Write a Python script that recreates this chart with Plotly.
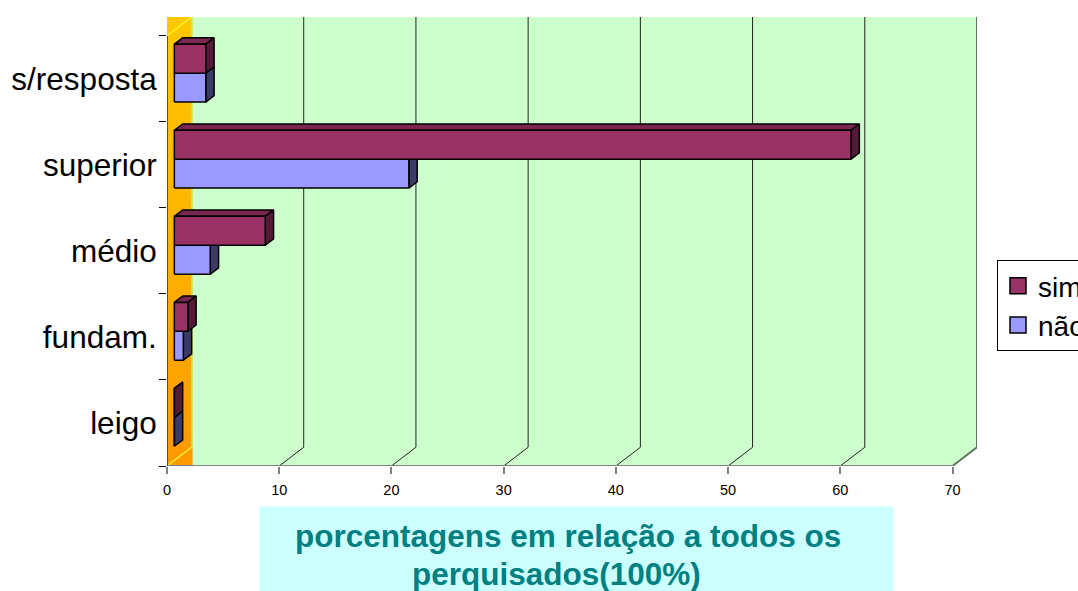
import plotly.graph_objects as go

# Survey shares (% of all respondents) by education level
categories = ["leigo", "fundam.", "médio", "superior", "s/resposta"]
sim = [0.0, 1.2, 8.1, 60.3, 2.8]
nao = [0.0, 0.8, 3.2, 20.9, 2.8]
x_ticks = [0, 10, 20, 30, 40, 50, 60, 70]
series_names = ["sim", "não"]
caption_lines = ["porcentagens em relação a todos os", "perquisados(100%)"]

# Oblique projection of the depth axis, expressed in data units
DEPTH_X = 2.183
DEPTH_Y = 0.2174
X_MAX = 70
N = len(categories)
Y_TOP = N + DEPTH_Y

BAR_H = 0.336          # thickness of one bar, in category units
F0, F1 = 0.30, 0.64    # front / back depth of the bars (fraction of wall depth)

FONT = "Liberation Sans, Arial, sans-serif"

SIM_FRONT, SIM_TOP, SIM_SIDE = "#993366", "#7a2750", "#561a39"
NAO_FRONT, NAO_TOP, NAO_SIDE = "#9999ff", "#6a6ab0", "#3b3b68"

# plot-area geometry in pixels (used for paper-space placement of legend/caption)
PLOT_L, PLOT_W, PLOT_B, PLOT_H = 167, 810, 466, 449


def px_x(px):
    return (px - PLOT_L) / PLOT_W


def px_y(py):
    return (PLOT_B - py) / PLOT_H


def proj(v, y, f):
    return v + f * DEPTH_X, y + f * DEPTH_Y


def polygon(pts, fill, line_color="black", line_width=1.5, **kw):
    xs, ys = zip(*pts)
    xs = list(xs) + [xs[0]]
    ys = list(ys) + [ys[0]]
    return go.Scatter(
        x=xs, y=ys, mode="lines", fill="toself", fillcolor=fill,
        line=dict(color=line_color, width=line_width),
        hoverinfo="skip", showlegend=False, **kw,
    )


def polyline(pts, color, width):
    xs, ys = zip(*pts)
    return go.Scatter(
        x=list(xs), y=list(ys), mode="lines",
        line=dict(color=color, width=width),
        hoverinfo="skip", showlegend=False,
    )


def bar_faces(v, y0, y1, front, top, side):
    f = [proj(0, y0, F0), proj(v, y0, F0), proj(v, y1, F0), proj(0, y1, F0)]
    t = [proj(0, y1, F0), proj(v, y1, F0), proj(v, y1, F1), proj(0, y1, F1)]
    s = [proj(v, y0, F0), proj(v, y0, F1), proj(v, y1, F1), proj(v, y1, F0)]
    return polygon(t, top), polygon(s, side), polygon(f, front)


fig = go.Figure()

# back wall + floor
fig.add_trace(polygon(
    [(0, 0), (X_MAX, 0), (X_MAX + DEPTH_X, DEPTH_Y), (X_MAX + DEPTH_X, Y_TOP), (0, Y_TOP)],
    "#ccffcc", line_width=0,
))

# gridlines running over floor and back wall
for v in x_ticks[1:-1]:
    fig.add_trace(polyline(
        [(v, 0), (v + DEPTH_X, DEPTH_Y), (v + DEPTH_X, Y_TOP)], "#222222", 1))
fig.add_trace(polyline(
    [(X_MAX, 0), (X_MAX + DEPTH_X, DEPTH_Y), (X_MAX + DEPTH_X, Y_TOP)], "#607460", 2))

# side wall with gradient
wall = go.Scatter(
    x=[0, DEPTH_X + 0.1, DEPTH_X + 0.1, 0, 0],
    y=[0, 0, Y_TOP, Y_TOP, 0],
    mode="lines", fill="toself", line=dict(width=0),
    fillgradient=dict(type="vertical",
                      colorscale=[[0, "#ff9900"], [0.5, "#ffb300"], [1, "#ffc800"]]),
    hoverinfo="skip", showlegend=False,
)
fig.add_trace(wall)
fig.add_trace(polyline([(0, N), (DEPTH_X, Y_TOP)], "#ffff33", 1.2))
fig.add_trace(polyline([(0, 0), (DEPTH_X, DEPTH_Y)], "#ffff33", 1.2))
fig.add_trace(polyline([(DEPTH_X + 0.05, DEPTH_Y), (DEPTH_X + 0.05, Y_TOP)], "#ccee66", 1.5))

# bars
for i in range(N):
    c = i + 0.5
    for tr in bar_faces(nao[i], c - BAR_H, c, NAO_FRONT, NAO_TOP, NAO_SIDE):
        fig.add_trace(tr)
    for tr in bar_faces(sim[i], c, c + BAR_H, SIM_FRONT, SIM_TOP, SIM_SIDE):
        fig.add_trace(tr)

# axis lines
fig.add_trace(polyline([(0, 0), (X_MAX, 0)], "#808080", 2))
fig.add_trace(polyline([(0, 0), (0, N)], "#333333", 1.5))

# legend entries
for name, color in zip(series_names, [SIM_FRONT, NAO_FRONT]):
    fig.add_trace(go.Scatter(
        x=[None], y=[None], mode="markers", name=name,
        marker=dict(symbol="square", size=16, color=color,
                    line=dict(color="black", width=1.5)),
    ))

caption_font = dict(family=FONT, size=31.5, color="#008080", weight="bold")

fig.update_layout(
    width=1078, height=591,
    margin=dict(l=PLOT_L, r=1078 - PLOT_L - PLOT_W, t=PLOT_B - PLOT_H,
                b=591 - PLOT_B, autoexpand=False),
    paper_bgcolor="white", plot_bgcolor="white",
    font=dict(family=FONT, color="black"),
    showlegend=True,
    legend=dict(
        x=px_x(997), y=px_y(260), xanchor="left", yanchor="top",
        bgcolor="white", bordercolor="black", borderwidth=1,
        font=dict(size=28, family=FONT), itemwidth=30,
    ),
    xaxis=dict(
        range=[0, X_MAX + DEPTH_X], tickvals=x_ticks, ticks="outside",
        ticklen=7, tickwidth=1.5, tickcolor="#808080", ticklabelstandoff=4,
        showgrid=False, zeroline=False, showline=False,
        tickfont=dict(size=14.5, family=FONT, color="black"),
        fixedrange=True,
    ),
    yaxis=dict(
        range=[0, Y_TOP], tickvals=[i + 0.5 for i in range(N)], ticktext=categories,
        ticks="outside", ticklen=0, ticklabelstandoff=3,
        showgrid=False, zeroline=False, showline=False,
        tickfont=dict(size=31.5, family=FONT, color="black"),
        minor=dict(tickvals=list(range(N + 1)), ticks="outside", ticklen=7,
                   tickcolor="black", tickwidth=1),
        fixedrange=True,
    ),
    annotations=[
        # cyan caption panel
        dict(
            text=" ", xref="paper", yref="paper",
            x=px_x(576.5), y=px_y(556), xanchor="center", yanchor="middle",
            showarrow=False, width=633, height=98, borderpad=0,
            bgcolor="#ccffff",
        ),
        # caption text, one line per annotation
        dict(
            text=caption_lines[0], xref="paper", yref="paper",
            x=px_x(567.5), y=px_y(536), xanchor="center", yanchor="middle",
            showarrow=False, font=caption_font,
        ),
        dict(
            text=caption_lines[1], xref="paper", yref="paper",
            x=px_x(556.7), y=px_y(574), xanchor="center", yanchor="middle",
            showarrow=False, font=caption_font,
        ),
    ],
)

fig.write_html("out.html")
